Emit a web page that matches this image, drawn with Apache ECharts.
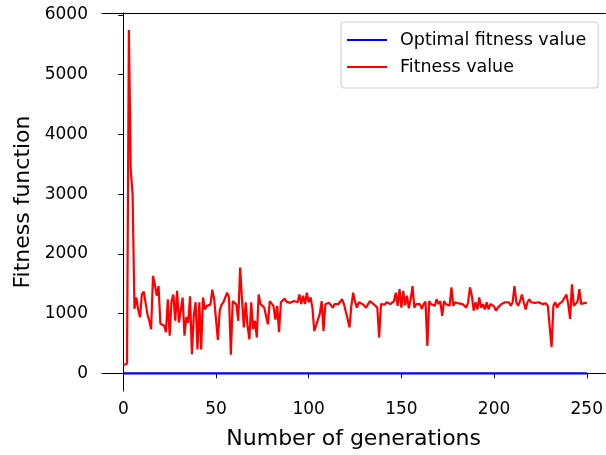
<!DOCTYPE html>
<html>
<head>
<meta charset="utf-8">
<script src="https://cdn.jsdelivr.net/npm/echarts@6/dist/echarts.min.js"></script>
<style>
  html, body { margin: 0; padding: 0; background: #fff; }
  #chart { width: 606px; height: 455px; }
</style>
</head>
<body>
<div id="chart"></div>
<script>
// fitness value per generation, gen 0..250
const fitness = [
  140, 150, 160, 5750, 3400, 3000, 1080, 1270, 1070, 940,
  1320, 1370, 1350, 990, 880, 740, 1630, 1490, 1300, 1460,
  830, 820, 800, 690, 1240, 630, 1210, 1320, 880, 1380,
  850, 880, 1270, 630, 940, 850, 1290, 320, 960, 1190,
  400, 1190, 400, 1270, 1070, 1130, 1130, 1150, 1400, 1240,
  1210, 560, 1050, 1150, 1190, 1190, 1350, 1270, 310, 1210,
  1210, 1150, 880, 1770, 1250, 770, 1190, 800, 570, 1190,
  740, 880, 600, 1320, 1160, 1130, 1100, 1100, 820, 1210,
  1190, 1130, 900, 1130, 690, 1190, 1210, 1250, 1200, 1190,
  1180, 1190, 1210, 1240, 1190, 1320, 1160, 1300, 1160, 1350,
  1190, 1270, 1100, 710, 800, 790, 1000, 1210, 710, 1160,
  1190, 1180, 1190, 1100, 1160, 1150, 1160, 1190, 1240, 1160,
  1130, 910, 770, 1130, 1350, 1200, 1100, 1190, 1160, 1160,
  1130, 1100, 1160, 1210, 1180, 1160, 1130, 1100, 600, 1160,
  1140, 1150, 1190, 1190, 1160, 1180, 1210, 1350, 1130, 1410,
  1100, 1380, 1140, 1300, 1090, 1240, 1460, 1100, 1160, 1190,
  1160, 1080, 1160, 1200, 460, 1210, 1160, 1190, 1130, 1240,
  1160, 1210, 960, 1210, 1160, 1190, 1130, 1440, 1130, 1190,
  1160, 1170, 1190, 1160, 1130, 1100, 1190, 1440, 1300, 1050,
  1190, 1070, 1270, 1100, 1160, 1070, 1190, 1070, 1160, 1130,
  1120, 1050, 1100, 1130, 1160, 1180, 1190, 1185, 1190, 1130,
  1190, 1460, 1190, 1130, 1210, 1320, 1190, 1070, 1190, 1240,
  1190, 1160, 1180, 1160, 1190, 1180, 1160, 1190, 1170, 1130,
  1160, 440, 1130, 1190, 1100, 1160, 1190, 1210, 1180, 1320,
  1160, 910, 1490, 1130, 1130, 1200, 1410, 1160, 1190, 1180,
  1180
];
// optimal fitness value: flat at zero across the run
const optimal = [[0, 0], [250, 0]];

const xTicks = [0, 50, 100, 150, 200, 250];
const yTicks = [0, 1000, 2000, 3000, 4000, 5000, 6000];

const font = 'DejaVu Sans';

const chart = echarts.init(document.getElementById('chart'));
chart.setOption({
  animation: false,
  backgroundColor: '#fff',
  grid: { left: 102, right: 0, top: 13, bottom: 63 },
  legend: {
    orient: 'vertical',
    left: 341,
    top: 22,
    padding: [9, 12, 12, 6],
    itemGap: 9,
    itemWidth: 40,
    itemHeight: 2,
    icon: 'rect',
    borderColor: '#cccccc',
    borderWidth: 1,
    borderRadius: 3,
    textStyle: { fontFamily: font, fontSize: 17.5, color: '#000', padding: [0, 0, 0, 8] },
    data: ['Optimal fitness value', 'Fitness value']
  },
  xAxis: [
    {
      type: 'value',
      min: -11.5,
      max: 260,
      name: 'Number of generations',
      nameLocation: 'middle',
      nameGap: 37,
      nameTextStyle: { fontFamily: font, fontSize: 22, color: '#000' },
      splitLine: { show: false },
      axisLine: { lineStyle: { color: '#000', width: 1 } },
      axisTick: { show: true, inside: false, length: 5, customValues: xTicks, lineStyle: { color: '#000' } },
      axisLabel: { customValues: xTicks, fontFamily: font, fontSize: 17, color: '#000', margin: 10 }
    },
    {
      type: 'value',
      position: 'top',
      min: -11.5,
      max: 260,
      splitLine: { show: false },
      axisLine: { show: true, lineStyle: { color: '#000', width: 1 } },
      axisTick: { show: false },
      axisLabel: { show: false }
    }
  ],
  yAxis: {
    type: 'value',
    min: -296,
    max: 6033,
    name: 'Fitness function',
    nameLocation: 'middle',
    nameGap: 63,
    nameTextStyle: { fontFamily: font, fontSize: 22, color: '#000' },
    splitLine: { show: false },
    axisLine: { show: true, lineStyle: { color: '#000', width: 1 } },
    axisTick: { show: true, inside: false, length: 5, customValues: yTicks, lineStyle: { color: '#000' } },
    axisLabel: {
      customValues: yTicks,
      formatter: v => String(v),
      fontFamily: font, fontSize: 17, color: '#000', margin: 14
    }
  },
  series: [
    {
      name: 'Optimal fitness value',
      type: 'line',
      data: optimal,
      symbol: 'none',
      color: '#0000ff',
      lineStyle: { color: '#0000ff', width: 2.2 }
    },
    {
      name: 'Fitness value',
      type: 'line',
      data: fitness.map((v, i) => [i, v]),
      symbol: 'none',
      color: '#ff0000',
      lineStyle: { color: '#ff0000', width: 2.2 }
    }
  ]
});
</script>
</body>
</html>
